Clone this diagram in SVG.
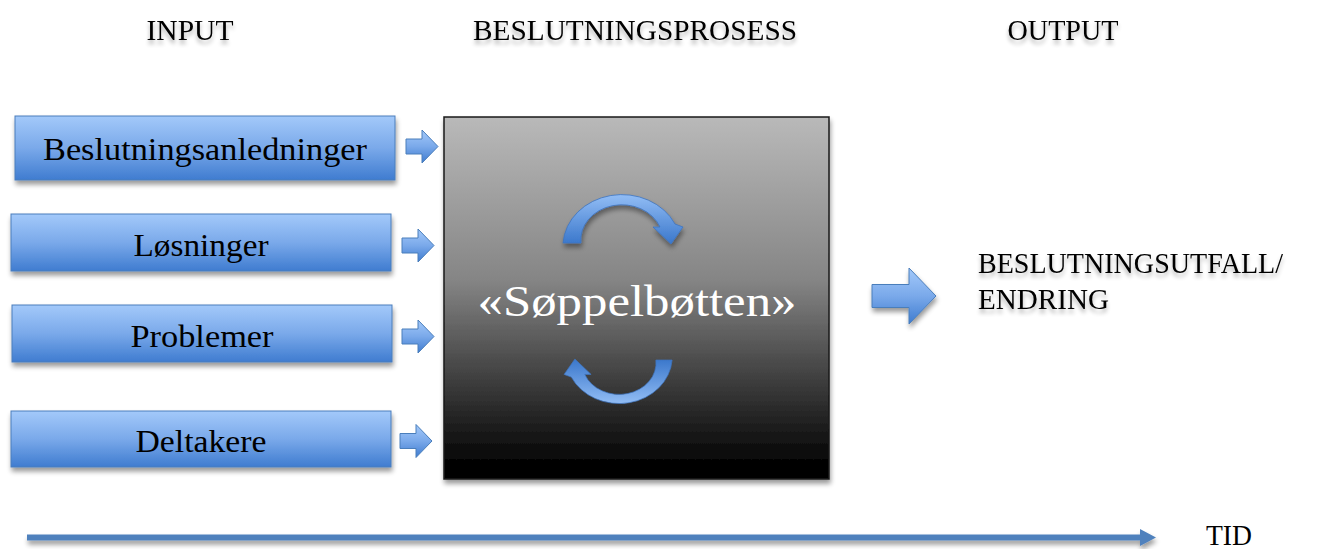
<svg xmlns="http://www.w3.org/2000/svg" width="1321" height="549" viewBox="0 0 1321 549">
<style>
.hdr{font-family:"Liberation Serif","Times New Roman",serif;font-size:29px;fill:#000;text-anchor:middle}
.lbl{font-family:"Liberation Serif","Times New Roman",serif;font-size:32px;fill:#000;text-anchor:middle}
.out{font-family:"Liberation Serif","Times New Roman",serif;font-size:29px;fill:#000}
.box{fill:url(#gBlue);stroke:#4a7ebb;stroke-width:1}
.arr{fill:url(#gBlue);stroke:#4a7ebb;stroke-width:1}
.big{fill:url(#gGray);stroke:#1a1a1a;stroke-width:1.5}
.main{font-family:"Liberation Serif","Times New Roman",serif;font-size:45px;fill:#fff;text-anchor:middle}
</style>
<defs>
<linearGradient id="gBlue" x1="0" y1="0" x2="0" y2="1">
<stop offset="0" stop-color="#a3c9fa"/>
<stop offset="0.5" stop-color="#7aa9ea"/>
<stop offset="1" stop-color="#3f7cd0"/>
</linearGradient>
<linearGradient id="gArc" x1="0" y1="0" x2="0" y2="1">
<stop offset="0" stop-color="#92bdf5"/>
<stop offset="1" stop-color="#3a77cb"/>
</linearGradient>
<linearGradient id="gGray" x1="0" y1="0" x2="0" y2="1">
<stop offset="0" stop-color="#b9b9b9"/>
<stop offset="0.45" stop-color="#858585"/>
<stop offset="0.97" stop-color="#000"/>
</linearGradient>
<filter id="sh" x="-10%" y="-10%" width="120%" height="140%">
<feGaussianBlur in="SourceAlpha" stdDeviation="2.5"/>
<feOffset dx="1" dy="4" result="b"/>
<feComponentTransfer><feFuncA type="linear" slope="0.4"/></feComponentTransfer>
<feMerge><feMergeNode/><feMergeNode in="SourceGraphic"/></feMerge>
</filter>
<filter id="tsh" x="-10%" y="-30%" width="120%" height="180%">
<feGaussianBlur in="SourceAlpha" stdDeviation="2"/>
<feOffset dx="0" dy="4" result="b"/>
<feComponentTransfer><feFuncA type="linear" slope="0.3"/></feComponentTransfer>
<feMerge><feMergeNode/><feMergeNode in="SourceGraphic"/></feMerge>
</filter>
<path id="smallArrow" d="M0 -7.5 H16 V-16.5 L32 0 L16 16.5 V7.5 H0 Z"/>
<path id="circArrow" d="M -59 0 A 59 52 0 0 1 53 -19 L 61 -16 L 49 1 L 31 -16 L 38 -16 A 41 35 0 0 0 -41 0 Z"/>
</defs>

<g id="headers">
<text class="hdr" x="190" y="40" textLength="87" lengthAdjust="spacingAndGlyphs" filter="url(#tsh)">INPUT</text>
<text class="hdr" x="635" y="40" textLength="324" lengthAdjust="spacingAndGlyphs" filter="url(#tsh)">BESLUTNINGSPROSESS</text>
<text class="hdr" x="1063" y="40" textLength="111" lengthAdjust="spacingAndGlyphs" filter="url(#tsh)">OUTPUT</text>
</g>

<g id="node-beslutningsanledninger">
<rect class="box" x="15" y="116" width="380" height="64" filter="url(#sh)"/>
<text class="lbl" x="205" y="160" textLength="324" lengthAdjust="spacingAndGlyphs">Beslutningsanledninger</text>
</g>
<g id="node-losninger">
<rect class="box" x="11" y="214" width="380" height="57" filter="url(#sh)"/>
<text class="lbl" x="201" y="256" textLength="135" lengthAdjust="spacingAndGlyphs">Løsninger</text>
</g>
<g id="node-problemer">
<rect class="box" x="12" y="305" width="380" height="57" filter="url(#sh)"/>
<text class="lbl" x="202" y="347" textLength="143" lengthAdjust="spacingAndGlyphs">Problemer</text>
</g>
<g id="node-deltakere">
<rect class="box" x="11" y="411" width="380" height="56" filter="url(#sh)"/>
<text class="lbl" x="201" y="452" textLength="131" lengthAdjust="spacingAndGlyphs">Deltakere</text>
</g>

<g id="node-soppelbotten">
<rect class="big" x="444" y="117" width="385" height="362" filter="url(#sh)"/>
<use href="#circArrow" transform="translate(622,243)" fill="url(#gArc)" stroke="#3d74bf" stroke-width="0.8" filter="url(#sh)"/>
<use href="#circArrow" transform="translate(619,360) rotate(180) scale(0.9)" fill="url(#gArc)" stroke="#3d74bf" stroke-width="0.8"/>
<text class="main" x="637" y="316" textLength="319" lengthAdjust="spacingAndGlyphs">«Søppelbøtten»</text>
</g>

<g id="node-output">
<text class="out" x="978" y="273" textLength="305" lengthAdjust="spacingAndGlyphs" filter="url(#tsh)">BESLUTNINGSUTFALL/</text>
<text class="out" x="978" y="309" textLength="131" lengthAdjust="spacingAndGlyphs" filter="url(#tsh)">ENDRING</text>
</g>

<g id="connectors">
<use href="#smallArrow" class="arr" transform="translate(406,146.5)"/>
<use href="#smallArrow" class="arr" transform="translate(402,245.5)"/>
<use href="#smallArrow" class="arr" transform="translate(402,336.5)"/>
<use href="#smallArrow" class="arr" transform="translate(400,441)"/>
<path class="arr" d="M872 284.5 H909 V268 L936 296 L909 324 V307.5 H872 Z" filter="url(#sh)"/>
</g>

<g id="timeline">
<path d="M27 534.5 H1140 V529 L1156 537.5 L1140 546 V540.5 H27 Z" fill="#4f81bd" filter="url(#sh)"/>
<text class="hdr" x="1229" y="545" font-size="28" textLength="46" lengthAdjust="spacingAndGlyphs">TID</text>
</g>
</svg>
